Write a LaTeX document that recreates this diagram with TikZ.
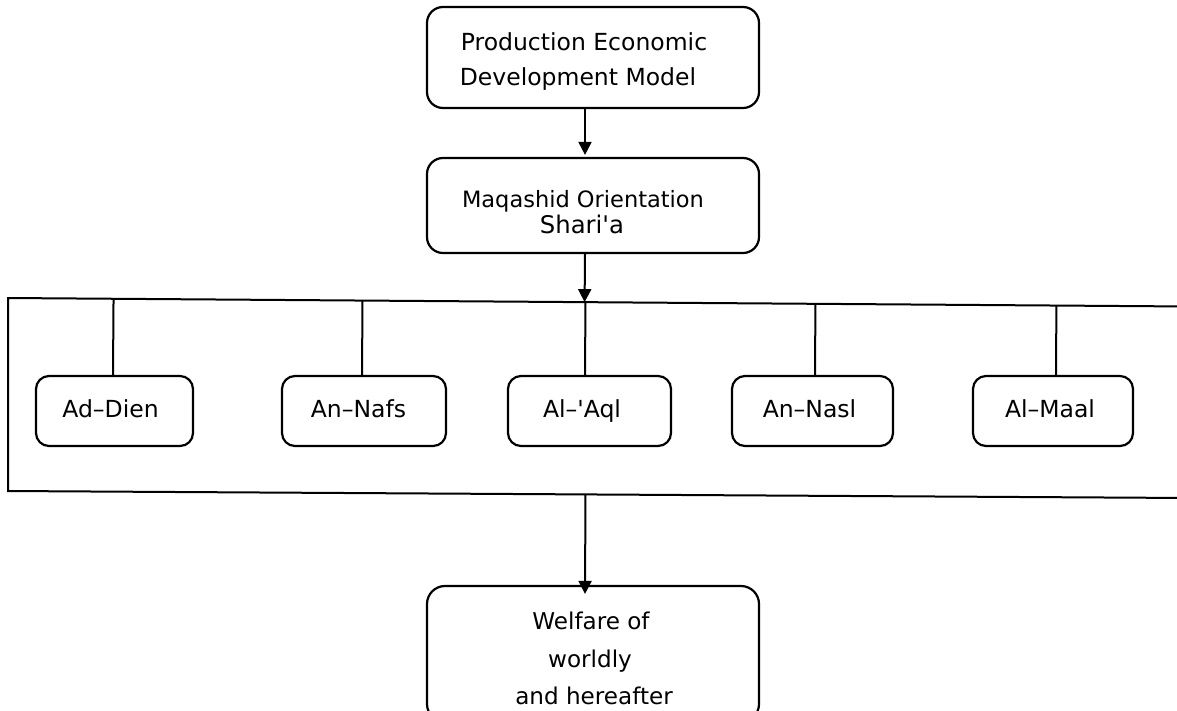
\documentclass[tikz,border=0pt]{standalone}
\usepackage{fontspec}
\setmainfont{DejaVu Sans}[Ligatures=TeXOff]
\usetikzlibrary{arrows.meta,calc}
\newcommand\myfs[1]{\fontsize{#1}{#1}\selectfont}
\begin{document}
\begin{tikzpicture}[x=1pt,y=-1pt,
  box/.style={draw, line width=2.2pt, rounded corners=13pt, inner sep=0pt},
  bigbox/.style={box, rounded corners=16pt, minimum width=332pt},
  smallbox/.style={box, minimum height=70pt},
  lbl/.style={anchor=base, inner sep=0pt, font=\myfs{23.5}},
  conn/.style={line width=2pt},
  arr/.style={line width=2pt, -{Triangle[length=13pt,width=13pt]}}]
\useasboundingbox (0,0) rectangle (1177,710);
\clip (0,0) rectangle (1177,710);
\fill[white] (0,0) rectangle (1177,710);

% main boxes
\node[bigbox, minimum height=101pt] (top) at (593,57.5) {};
\node[bigbox, minimum height=95pt] (mid) at (593,205.5) {};
\node[bigbox, rounded corners=18pt, minimum height=136pt] (bot) at (593,654) {};

\node[lbl] (topA) at (584,50) {Production Economic};
\node[lbl] (topB) at (578,85) {Development Model};
\node[lbl, font=\myfs{22.5}] (midA) at (583,207) {Maqashid Orientation};
\node[lbl, font=\myfs{24.3}] (midB) at (582,233) {Shari'a};
\node[lbl, font=\myfs{23.1}] (botA) at (591,629) {Welfare of};
\node[lbl, font=\myfs{23.1}] (botB) at (590,667) {worldly};
\node[lbl, font=\myfs{23.1}] (botC) at (594,704) {and hereafter};

% frame
\coordinate (tl) at (8,298);
\coordinate (tr) at (1190,306.5);
\coordinate (bl) at (8,491);
\coordinate (br) at (1190,498);
\draw[conn] (tr) -- (tl) -- (bl) -- (br);

% five goals
\node[smallbox, minimum width=157pt] (b1) at (114.5,411) {};
\node[smallbox, minimum width=164pt] (b2) at (364,411) {};
\node[smallbox, minimum width=163pt] (b3) at (589.5,411) {};
\node[smallbox, minimum width=161pt] (b4) at (812.5,411) {};
\node[smallbox, minimum width=160pt] (b5) at (1053,411) {};

\node[lbl] (l1) at (110.5,417) {Ad–Dien};
\node[lbl] (l2) at (358.5,417) {An–Nafs};
\node[lbl] (l3) at (582,417) {Al–'Aql};
\node[lbl] (l4) at (809.5,417) {An–Nasl};
\node[lbl] (l5) at (1050,417) {Al–Maal};

\coordinate (sp) at (585,0);
\draw[conn] ([xshift=-1.5pt]b1.north) -- ($(tl)!([xshift=-1.5pt]b1.north)!(tr)$);
\draw[conn] ([xshift=-2pt]b2.north) -- ($(tl)!([xshift=-2pt]b2.north)!(tr)$);
\draw[conn] (b3.north -| sp) -- ($(tl)!(b3.north -| sp)!(tr)$);
\draw[conn] ([xshift=2.5pt]b4.north) -- ($(tl)!([xshift=2.5pt]b4.north)!(tr)$);
\draw[conn] ([xshift=3pt]b5.north) -- ($(tl)!([xshift=3pt]b5.north)!(tr)$);

% arrows
\draw[arr] (top.south -| sp) -- ([yshift=2pt]mid.north -| sp);
\draw[arr] (mid.south -| sp) -- ($(tl)!(mid.south -| sp)!(tr)$);
\draw[arr] ($(bl)!(bot.north -| sp)!(br)$) -- ([yshift=-9pt]bot.north -| sp);
\end{tikzpicture}
\end{document}
